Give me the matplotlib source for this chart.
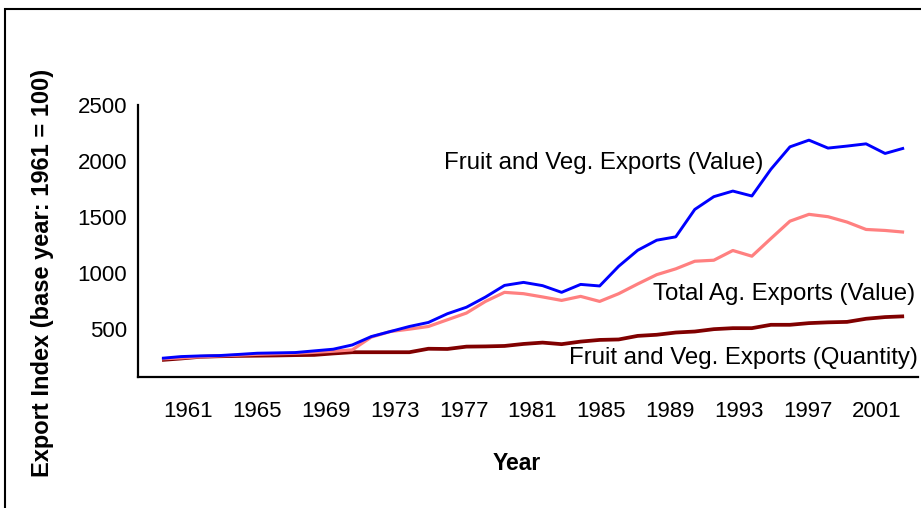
import matplotlib
matplotlib.use("Agg")
import matplotlib.pyplot as plt
from matplotlib.patches import Rectangle

plt.rcParams['font.family'] = ['Liberation Sans', 'DejaVu Sans']

years = list(range(1961, 2001))
fv_value = [237, 252, 258, 261, 271, 282, 285, 288, 303, 318,
            356, 431, 476, 521, 557, 635, 693, 784, 888, 915,
            886, 826, 897, 883, 1059, 1202, 1292, 1322, 1567, 1681,
            1731, 1687, 1926, 2126, 2186, 2115, 2133, 2153, 2067, 2115]
ag_value = [232, 240, 250, 258, 265, 272, 277, 282, 290, 300,
            312, 426, 476, 497, 521, 581, 641, 745, 826, 814,
            785, 754, 790, 745, 814, 901, 984, 1036, 1104, 1113,
            1200, 1149, 1307, 1462, 1523, 1502, 1454, 1388, 1379, 1364]
fv_quantity = [222, 235, 250, 255, 258, 260, 262, 265, 267, 280,
               291, 291, 291, 291, 322, 320, 341, 343, 347, 365,
               377, 363, 386, 401, 405, 437, 447, 467, 476, 497,
               506, 506, 536, 536, 551, 558, 562, 590, 605, 612]
yticks = [500, 1000, 1500, 2000, 2500]
xtick_labels = list(range(1961, 2002, 4))

fig = plt.figure(figsize=(9.21, 5.08), dpi=100)
fig.patches.append(Rectangle((5/921, -0.05), 1.0, 1.05 - 9/508, transform=fig.transFigure,
                             fill=False, edgecolor='black', linewidth=1.5))

ax = fig.add_axes([138/921, 1 - 377/508, 780/921, 272/508])
ax.plot(years, fv_quantity, color='#800000', linewidth=2.7, solid_capstyle='butt')
ax.plot(years, ag_value, color='#FF8080', linewidth=2.3, solid_capstyle='butt')
ax.plot(years, fv_value, color='#0000FF', linewidth=2.1, solid_capstyle='butt')

ax.set_xlim(1959.74, 2000.73)
ax.set_ylim(69.6, 2500)
ax.set_yticks(yticks)
ax.set_yticklabels([str(v) for v in yticks], fontsize=16)
ax.tick_params(axis='y', length=0, pad=8)
ax.set_xticks([])
for s in ['top', 'right']:
    ax.spines[s].set_visible(False)
for s in ['left', 'bottom']:
    ax.spines[s].set_linewidth(1.6)
    ax.spines[s].set_color('black')

ax2 = ax.twiny()
ax2.set_xlim(1958.1, 2003.38)
ax2.xaxis.set_ticks_position('bottom')
ax2.set_xticks(xtick_labels)
ax2.set_xticklabels([str(v) for v in xtick_labels], fontsize=16)
ax2.tick_params(axis='x', length=0, pad=17)
for s in ax2.spines.values():
    s.set_visible(False)

ax.text(1975.8, 1980, 'Fruit and Veg. Exports (Value)', fontsize=17.3, ha='left', va='center')
ax.text(2000.6, 812, 'Total Ag. Exports (Value)', fontsize=17.3, ha='right', va='center')
ax.text(2000.73, 240, 'Fruit and Veg. Exports (Quantity)', fontsize=17.3, ha='right', va='center')

fig.text(517/921, 1 - 463/508, 'Year', fontsize=16.5, fontweight='bold', ha='center', va='center')
fig.text(43/921, 1 - 273/508, 'Export Index (base year: 1961 = 100)', fontsize=17,
         fontweight='bold', rotation=90, ha='center', va='center')

fig.savefig('out.png', dpi=100)
